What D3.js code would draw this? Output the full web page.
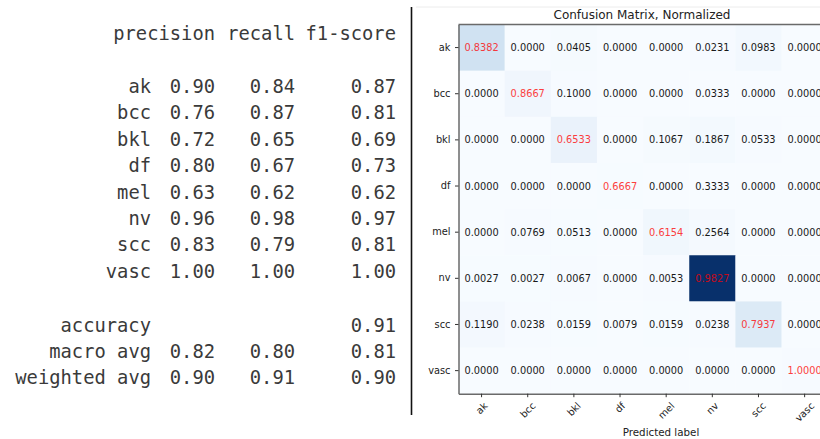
<!DOCTYPE html>
<html>
<head>
<meta charset="utf-8">
<script src="https://cdn.jsdelivr.net/npm/d3@7"></script>
<style>
  html, body { margin: 0; padding: 0; background: #fff; }
  svg { display: block; }
</style>
</head>
<body>
<svg id="chart" width="820" height="439"></svg>
<script>
// ---------- data ----------
const classes = ["ak", "bcc", "bkl", "df", "mel", "nv", "scc", "vasc"];
const reportHeader = ["precision", "recall", "f1-score"];
const precision = [0.90, 0.76, 0.72, 0.80, 0.63, 0.96, 0.83, 1.00];
const recall    = [0.84, 0.87, 0.65, 0.67, 0.62, 0.98, 0.79, 1.00];
const f1score   = [0.87, 0.81, 0.69, 0.73, 0.62, 0.97, 0.81, 1.00];
const accuracy = 0.91;
const macroAvg = [0.82, 0.80, 0.81];
const weightedAvg = [0.90, 0.91, 0.90];

// normalized confusion matrix (rows = true label, cols = predicted)
const cmAk   = [0.8382, 0.0000, 0.0405, 0.0000, 0.0000, 0.0231, 0.0983, 0.0000];
const cmBcc  = [0.0000, 0.8667, 0.1000, 0.0000, 0.0000, 0.0333, 0.0000, 0.0000];
const cmBkl  = [0.0000, 0.0000, 0.6533, 0.0000, 0.1067, 0.1867, 0.0533, 0.0000];
const cmDf   = [0.0000, 0.0000, 0.0000, 0.6667, 0.0000, 0.3333, 0.0000, 0.0000];
const cmMel  = [0.0000, 0.0769, 0.0513, 0.0000, 0.6154, 0.2564, 0.0000, 0.0000];
const cmNv   = [0.0027, 0.0027, 0.0067, 0.0000, 0.0053, 0.9827, 0.0000, 0.0000];
const cmScc  = [0.1190, 0.0238, 0.0159, 0.0079, 0.0159, 0.0238, 0.7937, 0.0000];
const cmVasc = [0.0000, 0.0000, 0.0000, 0.0000, 0.0000, 0.0000, 0.0000, 1.0000];
// estimated class supports (cell colour follows raw counts)
const support = [173, 30, 75, 3, 39, 750, 126, 5];

const cmRows = [cmAk, cmBcc, cmBkl, cmDf, cmMel, cmNv, cmScc, cmVasc];

const svg = d3.select("#chart");

// ---------- left: classification report ----------
const rep = svg.append("g")
  .attr("font-family", "'DejaVu Sans Mono', monospace")
  .attr("font-size", 18.8)
  .attr("fill", "#3a3a3a");

const colRight = [215, 295, 396];
const labelRight = 151;

reportHeader.forEach((h, i) => {
  rep.append("text").attr("x", colRight[i]).attr("y", 40)
    .attr("text-anchor", "end").text(h);
});

const rowY = d3.scaleLinear().domain([0, 1]).range([93, 119.4]);
const fmt = d3.format(".2f");
classes.forEach((c, i) => {
  const yy = rowY(i);
  rep.append("text").attr("x", labelRight).attr("y", yy).attr("text-anchor", "end").text(c);
  [precision[i], recall[i], f1score[i]].forEach((v, j) => {
    rep.append("text").attr("x", colRight[j]).attr("y", yy).attr("text-anchor", "end").text(fmt(v));
  });
});

const summary = [
  { label: "accuracy", vals: [null, null, accuracy] },
  { label: "macro avg", vals: macroAvg },
  { label: "weighted avg", vals: weightedAvg }
];
summary.forEach((s, k) => {
  const yy = rowY(classes.length + 1 + k) + 1;
  rep.append("text").attr("x", labelRight).attr("y", yy).attr("text-anchor", "end").text(s.label);
  s.vals.forEach((v, j) => {
    if (v !== null)
      rep.append("text").attr("x", colRight[j]).attr("y", yy).attr("text-anchor", "end").text(fmt(v));
  });
});

// divider line
svg.append("line").attr("x1", 411.5).attr("x2", 411.5).attr("y1", 7).attr("y2", 415)
  .attr("stroke", "#111").attr("stroke-width", 1.6);

// faint frame of the right figure
svg.append("line").attr("x1", 416).attr("x2", 820).attr("y1", 7).attr("y2", 7)
  .attr("stroke", "#ececec").attr("stroke-width", 1);

// ---------- right: confusion matrix ----------
const plotLeft = 458.5, plotTop = 24.5, cell = 46.15;
const x = d3.scaleBand().domain(classes).range([plotLeft, plotLeft + cell * classes.length]);
const y = d3.scaleBand().domain(classes).range([plotTop, plotTop + cell * classes.length]);

const cells = [];
cmRows.forEach((row, i) => row.forEach((v, j) => {
  cells.push({ t: classes[i], p: classes[j], v, count: Math.round(v * support[i]), diag: i === j });
}));
const maxCount = d3.max(cells, d => d.count);
const color = d3.scaleSequential(d3.interpolateBlues).domain([0, maxCount]);

const plot = svg.append("g");
plot.selectAll("rect.cell").data(cells).join("rect")
  .attr("class", "cell")
  .attr("x", d => x(d.p)).attr("y", d => y(d.t))
  .attr("width", x.bandwidth() + 0.3).attr("height", y.bandwidth() + 0.3)
  .attr("fill", d => color(d.count));

plot.selectAll("text.val").data(cells).join("text")
  .attr("class", "val")
  .attr("x", d => x(d.p) + x.bandwidth() / 2)
  .attr("y", d => y(d.t) + y.bandwidth() / 2)
  .attr("dy", "0.36em")
  .attr("text-anchor", "middle")
  .attr("font-family", "'DejaVu Sans', sans-serif")
  .attr("font-size", 9.8)
  .attr("fill", d => d3.interpolateRgb(d.diag ? "#ff0000" : "#000000", color(d.count))(d.diag ? 0.25 : 0.1))
  .text(d => d3.format(".4f")(d.v));

// axes
const spine = "#6a6a6a";
const yAxis = svg.append("g").attr("transform", `translate(${plotLeft},0)`)
  .call(d3.axisLeft(y).tickSize(3.5).tickSizeOuter(0).tickPadding(4.5));
const xAxis = svg.append("g").attr("transform", `translate(0,${plotTop + cell * classes.length})`)
  .call(d3.axisBottom(x).tickSize(3.5).tickSizeOuter(0));

[yAxis, xAxis].forEach(a => {
  a.select(".domain").attr("stroke", spine).attr("stroke-width", 1.5);
  a.selectAll(".tick line").attr("stroke", "#333").attr("stroke-width", 1);
  a.selectAll(".tick text").attr("font-family", "'DejaVu Sans', sans-serif")
    .attr("font-size", 9.8).attr("fill", "#222");
});
svg.append("line").attr("x1", plotLeft).attr("x2", 820).attr("y1", plotTop).attr("y2", plotTop)
  .attr("stroke", spine).attr("stroke-width", 1.5);

// rotate x tick labels 45 deg, centered under tick
xAxis.selectAll(".tick text").each(function () {
  const t = d3.select(this);
  const w = this.getComputedTextLength();
  const h = 9.8 * 0.95;
  const cy = 3.5 + 3.5 + (w + h) * 0.7071 / 2;
  t.attr("y", null).attr("dy", null)
    .attr("text-anchor", "middle")
    .attr("dominant-baseline", "central")
    .attr("transform", `translate(0,${cy}) rotate(-45)`);
});

// title & axis labels
svg.append("text").attr("x", 642).attr("y", 19).attr("text-anchor", "middle")
  .attr("font-family", "'DejaVu Sans', sans-serif").attr("font-size", 12).attr("fill", "#222")
  .text("Confusion Matrix, Normalized");

svg.append("text").attr("x", 661).attr("y", 436).attr("text-anchor", "middle")
  .attr("font-family", "'DejaVu Sans', sans-serif").attr("font-size", 10.3).attr("fill", "#222")
  .text("Predicted label");

svg.append("clipPath").attr("id", "ylabClip")
  .append("rect").attr("x", 416.5).attr("y", 0).attr("width", 40).attr("height", 439);
svg.append("text")
  .attr("clip-path", "url(#ylabClip)")
  .attr("transform", "translate(423,208) rotate(-90)")
  .attr("text-anchor", "middle")
  .attr("font-family", "'DejaVu Sans', sans-serif").attr("font-size", 10.3).attr("fill", "#222")
  .text("True label");
</script>
</body>
</html>
